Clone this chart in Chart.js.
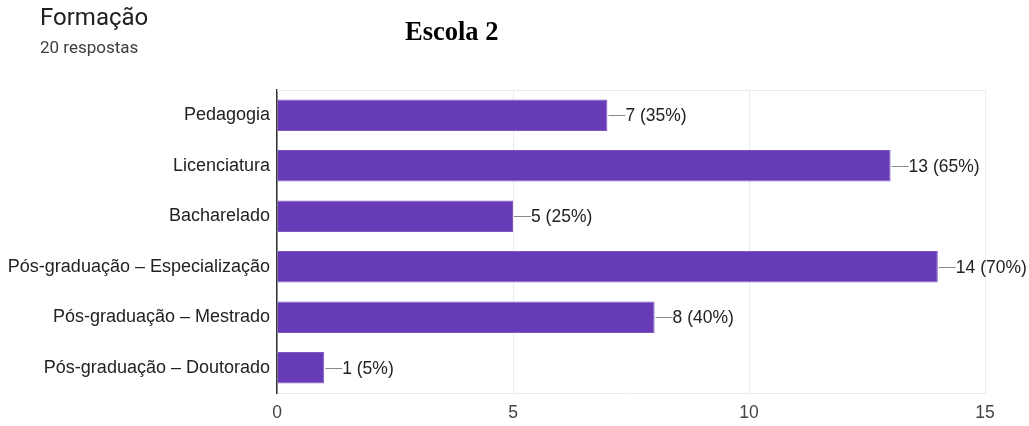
<!DOCTYPE html>
<html lang="pt">
<head>
<meta charset="UTF-8">
<title>Formação</title>
<script src="https://cdn.jsdelivr.net/npm/chart.js"></script>
<style>
  html, body { margin: 0; padding: 0; background: #fff; }
  #wrap { position: relative; width: 1029px; height: 426px; }
  #titulo { position: absolute; left: 40px; top: 3px; font: 24px Roboto, sans-serif; color: #202124; }
  #respostas { position: absolute; left: 40px; top: 37px; font: 17px Roboto, sans-serif; color: #3c4043; }
  #escola { position: absolute; left: 405px; top: 16px; font: bold 26.5px "Liberation Serif", "Times New Roman", serif; color: #000; }
  canvas { position: absolute; left: 0; top: 0; }
</style>
</head>
<body>
<div id="wrap">
  <canvas id="grafico" width="1029" height="426"></canvas>
  <div id="titulo">Formação</div>
  <div id="respostas">20 respostas</div>
  <div id="escola">Escola 2</div>
</div>
<script>
// categorias e contagens
const categorias = [
  'Pedagogia',
  'Licenciatura',
  'Bacharelado',
  'Pós-graduação – Especialização',
  'Pós-graduação – Mestrado',
  'Pós-graduação – Doutorado'
];
const quantidades = [7, 13, 5, 14, 8, 1];
const percentuais = [35, 65, 25, 70, 40, 5];
const ticksX = [0, 5, 10, 15];

const roxo = '#673ab7';
const fonte = '"Liberation Sans", Arial, sans-serif';

// rótulo "n (p%)" com tracinho à direita de cada barra
const rotulosBarras = {
  id: 'rotulosBarras',
  afterDatasetsDraw(chart) {
    const ctx = chart.ctx;
    const meta = chart.getDatasetMeta(0);
    ctx.save();
    ctx.font = '17.5px ' + fonte;
    ctx.textBaseline = 'middle';
    ctx.fillStyle = '#222';
    meta.data.forEach((bar, i) => {
      ctx.strokeStyle = '#8a8a8a';
      ctx.lineWidth = 1;
      ctx.beginPath();
      ctx.moveTo(bar.x + 1, Math.round(bar.y) + 0.5);
      ctx.lineTo(bar.x + 18, Math.round(bar.y) + 0.5);
      ctx.stroke();
      ctx.fillText(quantidades[i] + ' (' + percentuais[i] + '%)', bar.x + 18, bar.y + 1);
    });
    // linha superior da área do gráfico
    const a = chart.chartArea;
    ctx.strokeStyle = '#ebebeb';
    ctx.beginPath();
    ctx.moveTo(a.left, a.top + 0.5);
    ctx.lineTo(a.right, a.top + 0.5);
    ctx.stroke();
    ctx.restore();
  }
};

new Chart(document.getElementById('grafico'), {
  type: 'bar',
  data: {
    labels: categorias,
    datasets: [{
      data: quantidades,
      backgroundColor: roxo,
      borderColor: '#7e57c2',
      borderWidth: 1,
      barPercentage: 0.62,
      categoryPercentage: 1.0
    }]
  },
  options: {
    indexAxis: 'y',
    responsive: false,
    animation: false,
    layout: { padding: { top: 90, right: 44, left: 0, bottom: 0 } },
    plugins: { legend: { display: false }, tooltip: { enabled: false } },
    scales: {
      x: {
        min: 0,
        max: 15,
        afterBuildTicks(scale) { scale.ticks = ticksX.map(v => ({ value: v })); },
        afterFit(scale) { scale.height = 33; },
        grid: { color: '#ebebeb', drawTicks: false },
        border: { color: '#ebebeb' },
        ticks: { padding: 10, color: '#444', font: { family: fonte, size: 17.5 } }
      },
      y: {
        afterFit(scale) { scale.width = 277; },
        grid: { display: false, drawTicks: false },
        border: { color: '#333', width: 1.5 },
        ticks: { padding: 7, color: '#222', font: { family: fonte, size: 18 } }
      }
    }
  },
  plugins: [rotulosBarras]
});
</script>
</body>
</html>
